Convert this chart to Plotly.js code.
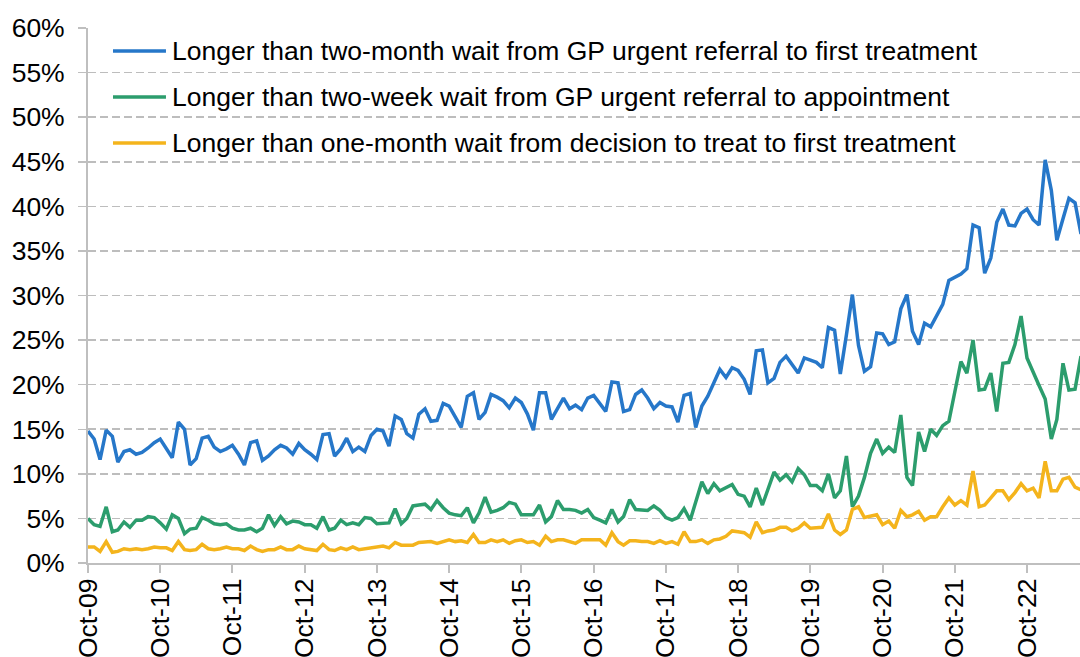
<!DOCTYPE html>
<html>
<head>
<meta charset="utf-8">
<script src="https://cdn.plot.ly/plotly-3.0.1.min.js"></script>
<style>
  body { margin: 0; background: #fff; }
  #plot { width: 1080px; height: 657px; }
</style>
</head>
<body>
<div id="plot"></div>
<script>
// Monthly series, Oct-09 onwards (percent of patients)
let twoMonthWait = [
    14.8, 13.9, 11.6, 14.9, 14.2, 11.3, 12.5, 12.7, 12.2, 12.4, 12.9, 13.5,
    13.9, 12.8, 11.8, 15.8, 15.0, 11.0, 11.7, 14.0, 14.2, 13.0, 12.5, 12.8,
    13.2, 12.2, 11.0, 13.5, 13.7, 11.5, 12.0, 12.7, 13.2, 12.9, 12.2, 13.4,
    12.7, 12.2, 11.6, 14.4, 14.5, 12.0, 12.8, 14.0, 12.5, 13.0, 12.5, 14.3,
    15.0, 14.8, 13.1, 16.5, 16.1, 14.5, 14.0, 16.7, 17.3, 15.9, 16.0, 17.9,
    17.6, 16.4, 15.2, 18.7, 19.1, 16.1, 16.9, 18.9, 18.6, 18.2, 17.4, 18.5,
    18.0, 16.7, 14.9, 19.1, 19.1, 16.1, 17.3, 18.5, 17.3, 17.7, 17.2, 18.5,
    18.8, 17.8, 17.0, 20.3, 20.2, 17.0, 17.2, 18.9, 19.4, 18.5, 17.3, 18.0,
    17.6, 17.5, 15.8, 18.8, 19.0, 15.2, 17.6, 18.7, 20.3, 21.7, 20.8, 21.9,
    21.6, 20.6, 18.9, 23.8, 23.9, 20.2, 20.7, 22.5, 23.2, 22.3, 21.3, 23.0,
    22.8, 22.5, 21.9, 26.4, 26.1, 21.2, 25.6, 30.1, 24.4, 21.5, 22.0, 25.8,
    25.7, 24.5, 24.8, 28.5, 30.1, 26.0, 24.5, 26.9, 26.5, 27.7, 29.0, 31.7,
    32.0, 32.4, 33.0, 37.9, 37.6, 32.5, 34.2, 38.2, 39.7, 37.9, 37.8, 39.2,
    39.7, 38.5, 37.9, 45.2, 41.8, 36.2, 38.6, 40.9, 40.4, 36.9
];
let twoWeekWait = [
    5.0, 4.3, 4.1, 6.3, 3.5, 3.7, 4.6, 4.0, 4.8, 4.8, 5.2, 5.1,
    4.5, 3.8, 5.4, 5.0, 3.3, 3.8, 3.9, 5.1, 4.8, 4.4, 4.3, 4.4,
    3.9, 3.7, 3.7, 3.9, 3.5, 3.9, 5.4, 4.2, 5.2, 4.4, 4.7, 4.6,
    4.3, 4.3, 3.9, 5.2, 3.7, 3.9, 4.8, 4.3, 4.5, 4.3, 5.1, 5.0,
    4.4, 4.5, 4.5, 6.1, 4.4, 5.0, 6.4, 6.5, 6.6, 6.0, 7.0, 6.2,
    5.6, 5.4, 5.3, 6.2, 4.5, 5.6, 7.4, 5.7, 5.9, 6.2, 6.8, 6.6,
    5.4, 5.4, 5.4, 6.5, 4.6, 5.2, 7.0, 6.0, 6.0, 5.9, 5.6, 6.0,
    5.1, 4.8, 4.5, 6.0, 4.6, 5.2, 7.1, 6.0, 5.9, 5.9, 6.4, 5.9,
    5.1, 4.8, 5.1, 6.1, 4.8, 6.9, 9.1, 7.8, 8.9, 8.1, 8.4, 8.8,
    7.7, 7.5, 6.3, 8.4, 6.5, 8.2, 10.2, 9.3, 9.9, 9.1, 10.6, 9.9,
    8.7, 8.7, 8.1, 10.0, 7.3, 8.1, 12.0, 6.3, 7.5, 9.6, 12.3, 13.9,
    12.3, 13.0, 12.4, 16.6, 9.6, 8.7, 14.7, 12.5, 15.0, 14.3, 15.4, 15.9,
    19.1, 22.6, 21.3, 25.0, 19.4, 19.5, 21.3, 17.0, 22.4, 22.5, 24.5, 27.7,
    23.0, 21.3, 19.9, 18.4, 13.9, 16.1, 22.4, 19.4, 19.5, 23.2
];
let oneMonthWait = [
    1.8, 1.8, 1.3, 2.4, 1.2, 1.3, 1.6, 1.5, 1.6, 1.5, 1.6, 1.8,
    1.7, 1.7, 1.4, 2.4, 1.5, 1.4, 1.5, 2.1, 1.6, 1.5, 1.6, 1.8,
    1.6, 1.6, 1.4, 1.9, 1.5, 1.3, 1.5, 1.5, 1.8, 1.5, 1.5, 1.9,
    1.6, 1.5, 1.4, 2.1, 1.5, 1.4, 1.7, 1.5, 1.8, 1.5, 1.6, 1.7,
    1.8, 1.9, 1.7, 2.3, 2.0, 2.0, 2.0, 2.3, 2.4, 2.4, 2.2, 2.4,
    2.6, 2.4, 2.5, 2.3, 3.2, 2.3, 2.3, 2.6, 2.4, 2.6, 2.2, 2.5,
    2.6, 2.3, 2.4, 2.0, 3.0, 2.4, 2.6, 2.6, 2.4, 2.2, 2.6, 2.6,
    2.6, 2.6, 2.0, 3.4, 2.4, 2.0, 2.5, 2.5, 2.4, 2.4, 2.2, 2.5,
    2.2, 2.4, 2.1, 3.5, 2.4, 2.4, 2.6, 2.2, 2.6, 2.7, 3.0, 3.6,
    3.5, 3.4, 2.9, 4.6, 3.4, 3.6, 3.7, 4.0, 4.0, 3.6, 3.9, 4.5,
    3.9, 4.0, 4.0, 5.5, 3.7, 3.2, 3.7, 6.0, 6.3, 5.1, 5.3, 5.4,
    4.3, 4.7, 3.9, 5.9, 5.2, 5.4, 5.8, 4.8, 5.2, 5.2, 6.3, 7.3,
    6.5, 7.0, 6.5, 10.3, 6.3, 6.5, 7.3, 8.1, 8.1, 7.1, 7.9, 8.9,
    8.1, 8.4, 7.3, 11.4, 8.1, 8.1, 9.4, 9.6, 8.5, 8.2
];

let seriesNames = [
    "Longer than two-month wait from GP urgent referral to first treatment",
    "Longer than two-week wait from GP urgent referral to appointment",
    "Longer than one-month wait from decision to treat to first treatment"
];
let seriesColors = ["#2677c9", "#2c9d6d", "#f4b41c"];

// Month categories starting Oct 2009
let months = [];
for (let i = 0; i < twoMonthWait.length; i++) {
    let y = 2009 + Math.floor((9 + i) / 12);
    let m = (9 + i) % 12 + 1;
    months.push(y + "-" + (m < 10 ? "0" + m : m) + "-01");
}

let allSeries = [twoMonthWait, twoWeekWait, oneMonthWait];
let pdata = [];
for (let i = 0; i < allSeries.length; i++) {
    pdata.push({
        x: months,
        y: allSeries[i],
        name: seriesNames[i],
        type: "scatter",
        mode: "lines",
        line: { color: seriesColors[i], width: 3.5 },
        showlegend: false
    });
}

// Hand-placed legend (line sample + label) in the top left corner
let shapes = [];
let annotations = [];
let legendY = [0.957, 0.871, 0.785];
for (let i = 0; i < seriesNames.length; i++) {
    shapes.push({
        type: "line", xref: "paper", yref: "paper",
        x0: 0.0252, x1: 0.0786, y0: legendY[i], y1: legendY[i],
        line: { color: seriesColors[i], width: 3.5 }
    });
    annotations.push({
        xref: "paper", yref: "paper", x: 0.0827, y: legendY[i],
        xanchor: "left", yanchor: "middle", showarrow: false,
        text: seriesNames[i],
        font: { size: 26.5, color: "#000" }
    });
}

let layout = {
    width: 1080,
    height: 657,
    margin: { l: 88, r: 0, t: 28, b: 94 },
    paper_bgcolor: "#fff",
    plot_bgcolor: "#fff",
    font: { family: "Liberation Sans, Arial, sans-serif", color: "#000", size: 26.5 },
    xaxis: {
        type: "date",
        range: ["2009-10-01", "2023-06-26"],
        tick0: "2009-10-01",
        dtick: "M12",
        tickformat: "%b-%y",
        tickangle: -90,
        ticks: "outside",
        ticklen: 8,
        tickwidth: 2,
        tickcolor: "#bfbfbf",
        showline: true,
        linecolor: "#bfbfbf",
        linewidth: 2,
        showgrid: false,
        zeroline: false,
        ticklabelstandoff: -5,
        tickfont: { size: 26.5 }
    },
    yaxis: {
        range: [0, 60],
        dtick: 5,
        ticksuffix: "%",
        ticks: "outside",
        ticklen: 8,
        tickwidth: 1.5,
        tickcolor: "#bfbfbf",
        showline: true,
        linecolor: "#bfbfbf",
        linewidth: 2,
        showgrid: true,
        gridcolor: "#bdbdbd",
        gridwidth: 1.6,
        griddash: "8px,4px",
        zeroline: false,
        ticklabelstandoff: 8,
        tickfont: { size: 26.5 }
    },
    shapes: shapes,
    annotations: annotations
};

Plotly.newPlot("plot", pdata, layout, { displayModeBar: false, staticPlot: true });
</script>
</body>
</html>
